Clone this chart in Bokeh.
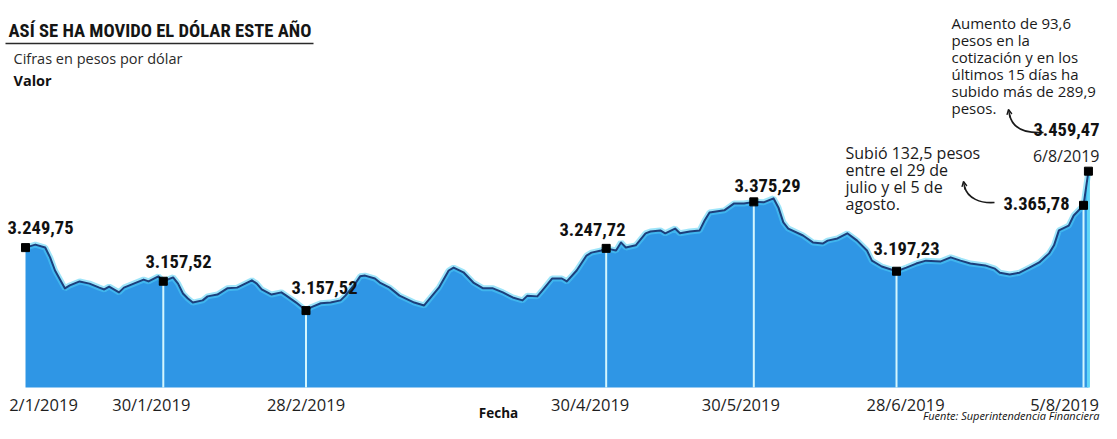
import pandas as pd
from bokeh.plotting import figure
from bokeh.models import Range1d, ColumnDataSource, Label, Arrow, OpenHead
from bokeh.core.properties import value
from bokeh.embed import file_html
from bokeh.resources import INLINE

# ---------------- data ----------------
dates = [
    "2019-01-02", "2019-01-04", "2019-01-06", "2019-01-07", "2019-01-08", "2019-01-10",
    "2019-01-11", "2019-01-13", "2019-01-15", "2019-01-17", "2019-01-18", "2019-01-19",
    "2019-01-21", "2019-01-22", "2019-01-24", "2019-01-26", "2019-01-27", "2019-01-29",
    "2019-01-30", "2019-02-01", "2019-02-02", "2019-02-03", "2019-02-04", "2019-02-05",
    "2019-02-07", "2019-02-08", "2019-02-10", "2019-02-12", "2019-02-14", "2019-02-17",
    "2019-02-18", "2019-02-19", "2019-02-21", "2019-02-23", "2019-02-24", "2019-02-26",
    "2019-02-28", "2019-03-01", "2019-03-03", "2019-03-05", "2019-03-07", "2019-03-08",
    "2019-03-10", "2019-03-11", "2019-03-12", "2019-03-14", "2019-03-15", "2019-03-17",
    "2019-03-19", "2019-03-22", "2019-03-24", "2019-03-27", "2019-03-29", "2019-03-30",
    "2019-04-01", "2019-04-03", "2019-04-05", "2019-04-07", "2019-04-09", "2019-04-11",
    "2019-04-13", "2019-04-14", "2019-04-16", "2019-04-17", "2019-04-19", "2019-04-21",
    "2019-04-22", "2019-04-24", "2019-04-26", "2019-04-27", "2019-04-29", "2019-04-30",
    "2019-05-02", "2019-05-03", "2019-05-04", "2019-05-06", "2019-05-08", "2019-05-09",
    "2019-05-11", "2019-05-12", "2019-05-14", "2019-05-15", "2019-05-17", "2019-05-19",
    "2019-05-20", "2019-05-21", "2019-05-24", "2019-05-26", "2019-05-28", "2019-05-30",
    "2019-06-01", "2019-06-03", "2019-06-04", "2019-06-05", "2019-06-06", "2019-06-09",
    "2019-06-11", "2019-06-13", "2019-06-14", "2019-06-16", "2019-06-18", "2019-06-20",
    "2019-06-22", "2019-06-23", "2019-06-25", "2019-06-28", "2019-06-30", "2019-07-02",
    "2019-07-04", "2019-07-07", "2019-07-09", "2019-07-11", "2019-07-13", "2019-07-16",
    "2019-07-18", "2019-07-19", "2019-07-21", "2019-07-23", "2019-07-25", "2019-07-27",
    "2019-07-29", "2019-07-30", "2019-07-31", "2019-08-02", "2019-08-03", "2019-08-05",
    "2019-08-06",
]
values = [
    3249.75, 3258, 3250, 3223, 3187, 3138,
    3146, 3157, 3151, 3140, 3135, 3143,
    3127, 3140, 3151, 3162, 3157, 3171,
    3157.52, 3168, 3151, 3124, 3110, 3099,
    3105, 3116, 3121, 3138, 3140, 3160,
    3151, 3135, 3121, 3127, 3118, 3099,
    3077, 3086, 3097, 3099, 3105, 3118,
    3151, 3171, 3173, 3165, 3154, 3140,
    3118, 3099, 3091, 3140, 3187, 3195,
    3182, 3154, 3138, 3138, 3127, 3113,
    3105, 3118, 3116, 3132, 3165, 3165,
    3157, 3187, 3228, 3236, 3242, 3247.72,
    3242, 3264, 3250, 3256, 3289, 3294,
    3297, 3289, 3302, 3289, 3294, 3297,
    3324, 3346, 3352, 3371, 3371, 3375.29,
    3374, 3385, 3360, 3319, 3302, 3283,
    3264, 3261, 3269, 3275, 3289, 3269,
    3242, 3214, 3198, 3185, 3195, 3206,
    3214, 3212, 3223, 3214, 3206, 3201,
    3192, 3181, 3176, 3181, 3195, 3209,
    3234, 3256, 3297, 3310, 3338, 3365.78,
    3459.47,
]

highlight_dates = ["2019-01-02", "2019-01-30", "2019-02-28", "2019-04-30",
                   "2019-05-30", "2019-06-28", "2019-08-05", "2019-08-06"]
highlight_labels = ["3.249,75", "3.157,52", "3.157,52", "3.247,72",
                    "3.375,29", "3.197,23", "3.365,78", "3.459,47"]
drop_line_dates = ["2019-01-30", "2019-02-28", "2019-04-30",
                   "2019-05-30", "2019-06-28", "2019-08-05"]

tick_dates = ["2019-01-02", "2019-01-30", "2019-02-28", "2019-04-30",
              "2019-05-30", "2019-06-28", "2019-08-05"]
tick_labels = ["2/1/2019", "30/1/2019", "28/2/2019", "30/4/2019",
               "30/5/2019", "28/6/2019", "5/8/2019"]

base_value = 2866  # floor of the value axis

# ---------------- layout / style ----------------
W, H = 1101, 423
ORIGIN = pd.Timestamp("2019-01-02")
PX_PER_DAY = 4.921
X_ORIGIN_PX = 25
BASE_PX = 387
PX_PER_PESO = 0.3645


def xd(X):
    """canvas pixel x -> data x (ms)"""
    t = ORIGIN + pd.Timedelta(days=(X - X_ORIGIN_PX) / PX_PER_DAY)
    return t.timestamp() * 1000.0


def yv(Y):
    """canvas pixel y (from top) -> data value"""
    return base_value + (BASE_PX - Y) / PX_PER_PESO


COND = "'Roboto Condensed', 'DejaVu Sans Condensed', 'Liberation Sans Narrow', 'Arial Narrow', sans-serif"
BODY = "Open Sans"

p = figure(width=W, height=H, x_axis_type="datetime",
           x_range=Range1d(xd(0), xd(W)), y_range=Range1d(yv(H), yv(0)),
           toolbar_location=None, output_backend="svg", min_border=0,
           x_axis_location=None, y_axis_location=None,
           background_fill_color="white", border_fill_color="white",
           outline_line_color=None)
for g in p.grid:
    g.visible = False

df = pd.DataFrame({"date": pd.to_datetime(dates), "value": values})
src = ColumnDataSource(df)

# area
p.varea(x="date", y1=base_value, y2="value", source=src, fill_color="#2f96e5")

# vertical drop lines
val_by_date = dict(zip(dates, values))
drop = ColumnDataSource(dict(
    x=pd.to_datetime(drop_line_dates),
    y0=[base_value] * len(drop_line_dates),
    y1=[val_by_date[d] for d in drop_line_dates]))
p.segment(x0="x", y0="y0", x1="x", y1="y1", source=drop,
          line_color="#d4f6fd", line_width=2)

# right edge highlight
edge = ColumnDataSource(dict(x=pd.to_datetime([dates[-1]]), y0=[base_value], y1=[values[-1]]))
p.segment(x0="x", y0="y0", x1="x", y1="y1", source=edge,
          line_color="#5fd6f8", line_width=3)

# top line with glow
p.line(x="date", y="value", source=src, line_color="#4fd0f6", line_width=6, line_alpha=0.55)
p.line(x="date", y="value", source=src, line_color="#1c3f7c", line_width=2,
       line_join="round")

# markers
hl = ColumnDataSource(dict(x=pd.to_datetime(highlight_dates),
                           y=[val_by_date[d] for d in highlight_dates]))
p.scatter(x="x", y="y", source=hl, marker="square", size=8,
          fill_color="black", line_color="black")

# tick labels (dates)
tick_dx = [18, -12, 0, -16, -13, 9, -19]
ticks = ColumnDataSource(dict(x=pd.to_datetime(tick_dates), label=tick_labels, dx=tick_dx))
p.text(x="x", y=yv(404), text="label", x_offset="dx", source=ticks,
       text_font=value(BODY), text_font_size="16.5px", text_color="#1e1e1e",
       text_align="center", text_baseline="alphabetic")


def label(X, Y, text, size, font=BODY, style="normal", align="left", color="#1a1a1a"):
    p.add_layout(Label(x=xd(X), y=yv(Y), text=text, text_font=font,
                       text_font_size=size, text_font_style=style,
                       text_align=align, text_baseline="alphabetic",
                       text_color=color))


# value labels  (x, visual centre y, alignment)
hl_label_px = [(7, 227, "left"), (145, 261, "left"), (291, 287, "left"), (559, 229, "left"),
               (734, 185, "left"), (873, 248, "left"), (1003, 203, "left"), (1099, 129, "right")]
for (X, Y, al), t in zip(hl_label_px, highlight_labels):
    label(X, Y, t, "18.5px", font=COND, style="bold", align=al, color="#111111")

label(1099, 155, "6/8/2019", "16px", align="right", color="#1e1e1e")

# title + subtitle
label(8, 30, "ASÍ SE HA MOVIDO EL DÓLAR ESTE AÑO", "18.6px", font=COND, style="bold", color="#151515")
p.segment(x0=[xd(5)], y0=[yv(43)], x1=[xd(313)], y1=[yv(43)], line_color="#2a2a2a", line_width=1.5)
label(13, 58, "Cifras en pesos por dólar", "14.5px", color="#2a2a2a")
label(13, 80, "Valor", "14.5px", style="bold", color="#111111")

# axis title and source
label(498, 412, "Fecha", "13.5px", style="bold", align="center", color="#111111")
label(1099, 415, "Fuente: Superintendencia Financiera", "11px", style="italic",
      align="right", color="#111111")

# annotation texts
top_note = ["Aumento de 93,6", "pesos en la", "cotización y en los",
            "últimos 15 días ha", "subido más de 289,9", "pesos."]
for i, t in enumerate(top_note):
    label(951, 22 + 17 * i, t, "15px")
low_note = ["Subió 132,5 pesos", "entre el 29 de", "julio y el 5 de", "agosto."]
for i, t in enumerate(low_note):
    label(845, 152.5 + 17 * i, t, "16px")

# curved arrows
p.bezier(x0=[xd(1009), xd(964)], y0=[yv(114), yv(186)],
         x1=[xd(1043), xd(994)], y1=[yv(132), yv(202)],
         cx0=[xd(1012), xd(967)], cy0=[yv(129), yv(198)],
         cx1=[xd(1026), xd(980)], cy1=[yv(133), yv(203)],
         line_color="#1a1a1a", line_width=1.6)
for (xs, ys, xe, ye) in [(1009.5, 117, 1008, 109), (964.5, 189, 963, 181)]:
    p.add_layout(Arrow(end=OpenHead(size=5, line_width=1.4, line_color="#1a1a1a"),
                       x_start=xd(xs), y_start=yv(ys), x_end=xd(xe), y_end=yv(ye),
                       line_color="#1a1a1a", line_width=1.4))

open("out.html", "w").write(file_html(p, INLINE))
